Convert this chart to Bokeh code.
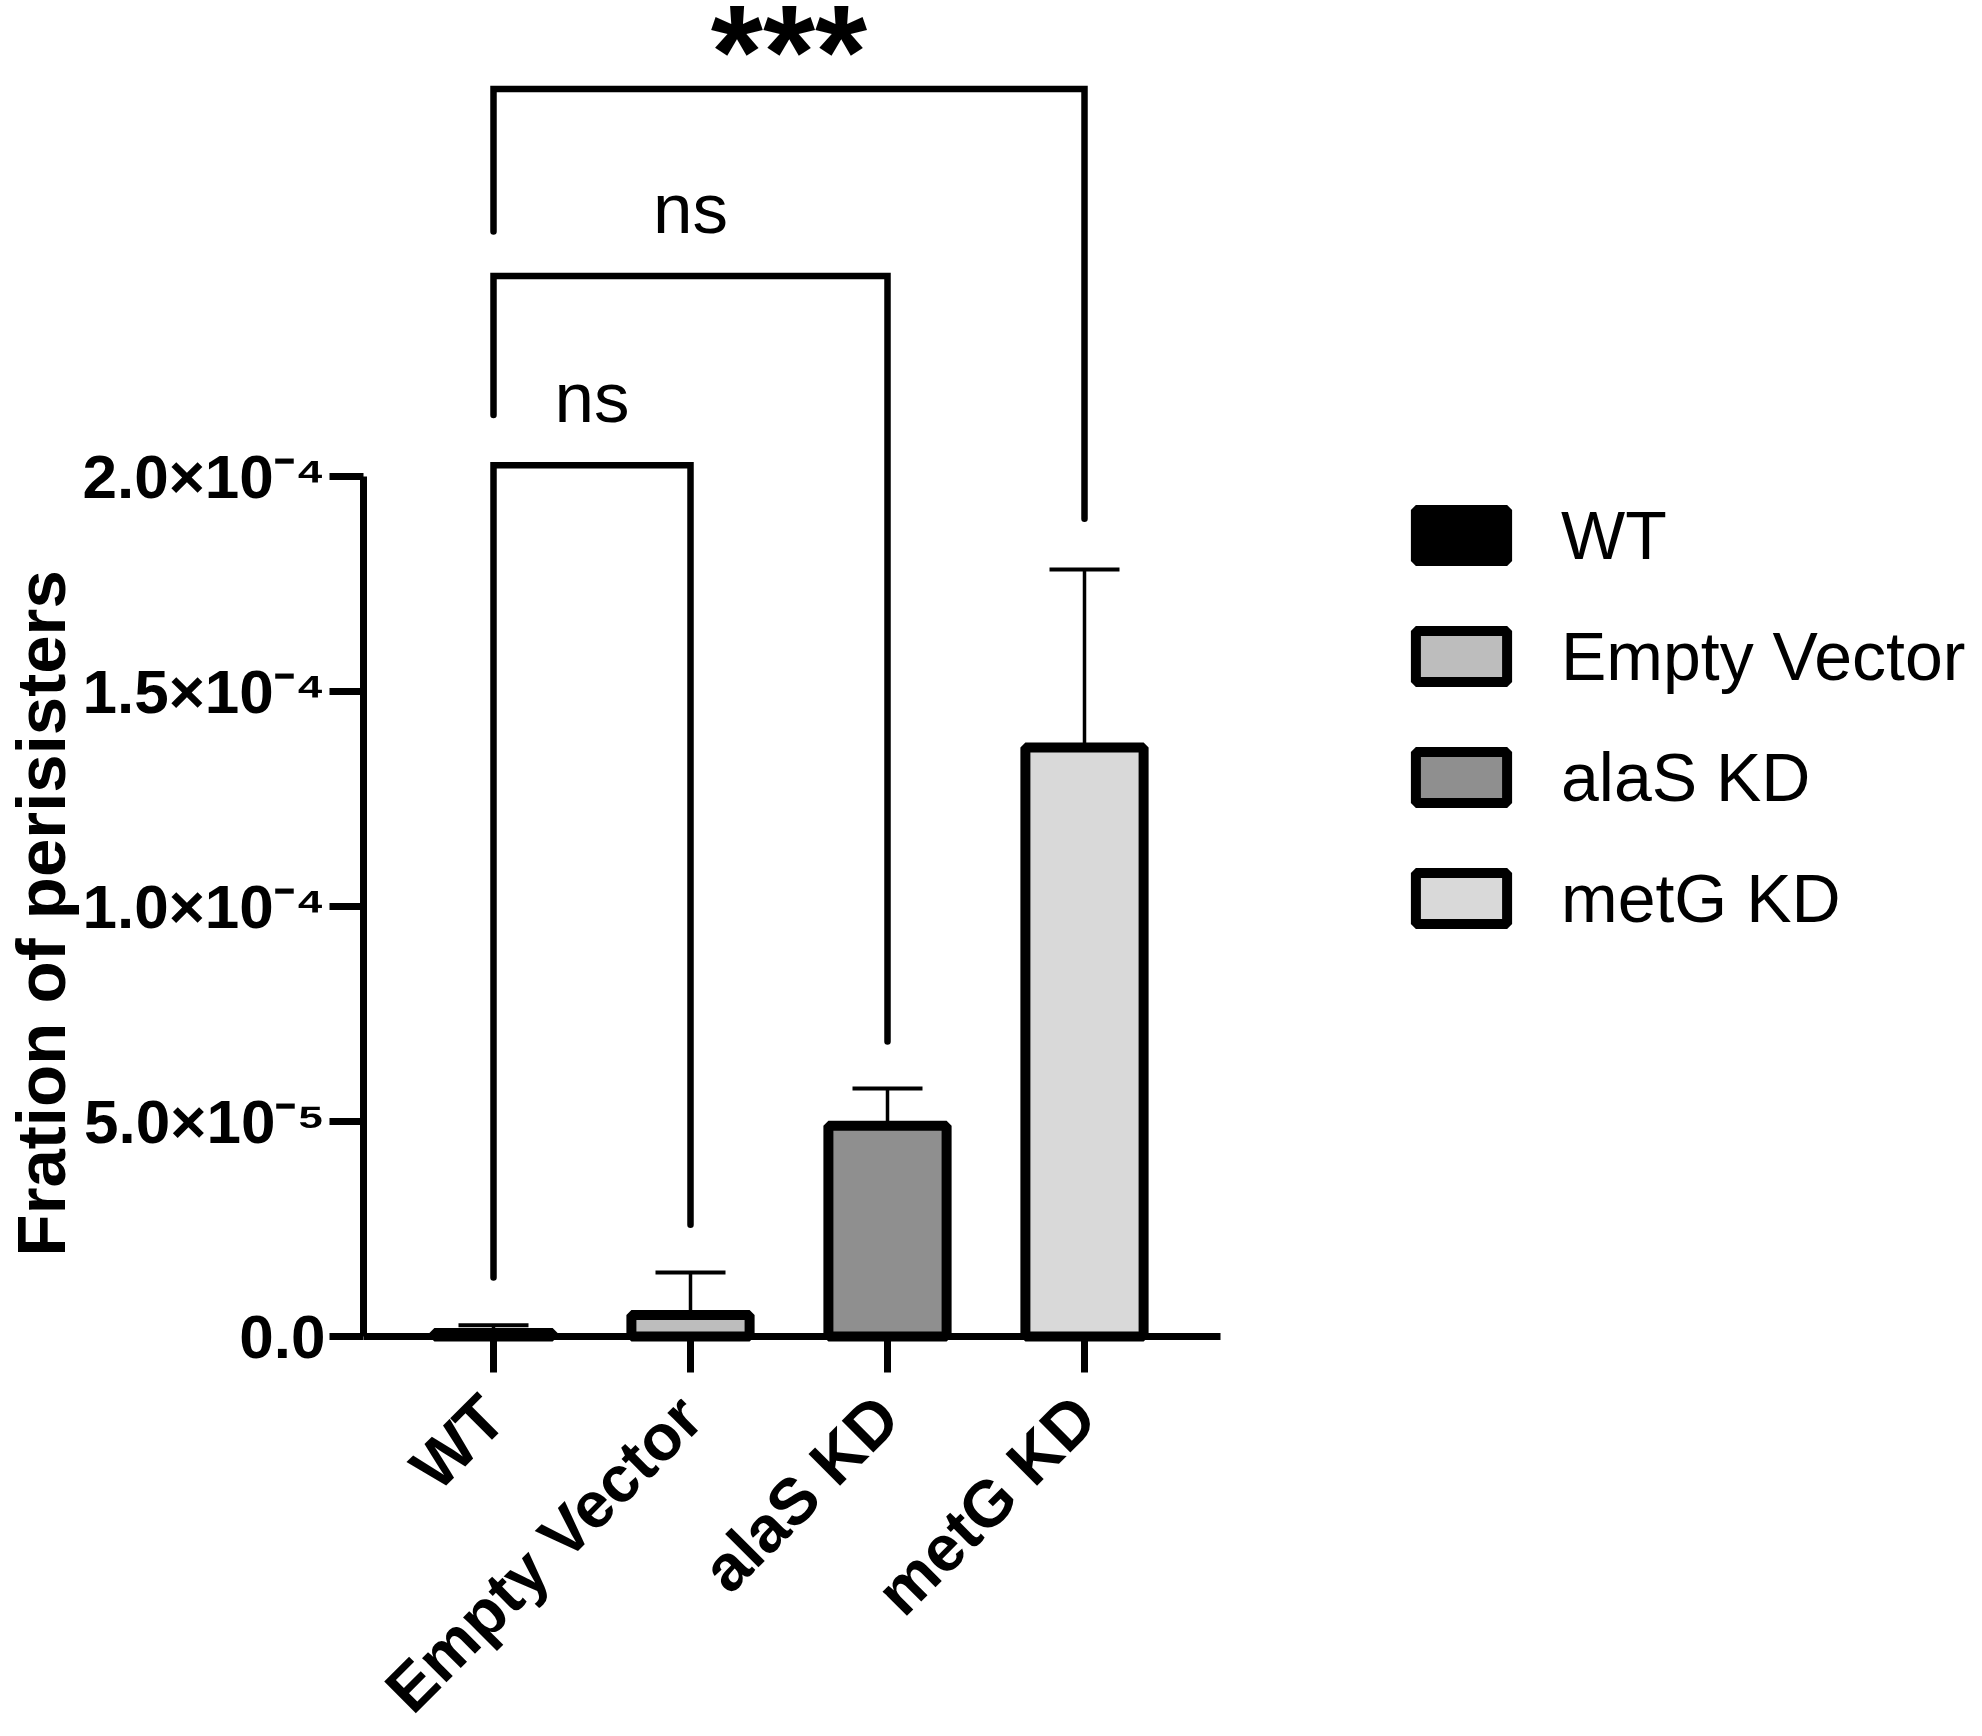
import math
from bokeh.plotting import figure
from bokeh.models import (ColumnDataSource, Range1d, FixedTicker, CustomJSTickFormatter,
                          Legend, LegendItem, Whisker, TeeHead, Title)
from bokeh.core.properties import value
from bokeh.embed import file_html
from bokeh.resources import INLINE

# ---- data ----
categories = ["WT", "Empty Vector", "alaS KD", "metG KD"]
means = [0.8e-6, 5.0e-6, 4.9e-5, 1.37e-4]
errors = [1.8e-6, 9.9e-6, 0.87e-5, 4.14e-5]
colors = ["#000000", "#bdbdbd", "#8f8f8f", "#d9d9d9"]
y_ticks = [0, 5e-5, 1e-4, 1.5e-4, 2e-4]
y_label = "Fration of perisisters"

comp_left = [1, 1, 1]
comp_right = [2, 3, 4]
comp_labels = ["ns", "ns", "***"]
bracket_top = [2.026e-4, 2.466e-4, 2.901e-4]
bracket_left_end = [1.37e-5, 2.143e-4, 2.57e-4]
bracket_right_end = [2.6e-5, 6.86e-5, 1.902e-4]

FONT = "Liberation Sans"

xs = list(range(1, len(categories) + 1))
src = ColumnDataSource(dict(
    x=xs, cat=categories, mean=means,
    upper=[m + e for m, e in zip(means, errors)],
    color=colors,
))

W, H = 1980, 1734
left_px = 363          # frame left edge = y axis line
zero_px = 1336         # pixel row of y = 0
px_per_y = 860.0 / 2e-4
px_per_unit = 197.0
x0 = 1 - (493 - left_px) / px_per_unit
x1 = x0 + (W - left_px) / px_per_unit
y_top = zero_px / px_per_y
y_bot = -(H - zero_px) / px_per_y

p = figure(width=W, height=H, output_backend="svg", toolbar_location=None,
           x_range=Range1d(x0, x1), y_range=Range1d(y_bot, y_top),
           min_border_left=left_px, min_border_bottom=0,
           min_border_top=0, min_border_right=0, title=None)
p.outline_line_color = None
p.grid.visible = False
p.background_fill_color = "white"

bars = p.vbar(x="x", top="mean", bottom=0, width=0.6, source=src,
              fill_color="color", line_color="black", line_width=10)

wh = Whisker(base="x", upper="upper", lower="mean", source=src,
             line_color="black", line_width=3.5,
             upper_head=TeeHead(size=70, line_color="black", line_width=4),
             lower_head=None)
p.add_layout(wh)

# significance brackets
bx = [[l, l, r, r] for l, r in zip(comp_left, comp_right)]
by = [[le, t, t, re] for le, t, re in zip(bracket_left_end, bracket_top, bracket_right_end)]
p.multi_line(xs=bx, ys=by, line_color="black", line_width=6.5,
             line_join="miter", line_cap="round")

mid = [(l + r) / 2 for l, r in zip(comp_left, comp_right)]
ns_idx = [i for i, t in enumerate(comp_labels) if t == "ns"]
st_idx = [i for i, t in enumerate(comp_labels) if t != "ns"]
p.text(x=[mid[i] for i in ns_idx], y=[bracket_top[i] for i in ns_idx],
       text=[comp_labels[i] for i in ns_idx], text_font=value(FONT),
       text_font_size="71px", text_align="center", text_baseline="alphabetic",
       y_offset=-68, text_color="black")
p.text(x=[mid[i] for i in st_idx], y=[bracket_top[i] for i in st_idx],
       text=[comp_labels[i] for i in st_idx], text_font=value(FONT),
       text_font_size="134px", text_font_style="bold", text_align="center",
       text_baseline="alphabetic", y_offset=-38, text_color="black")

# x axis, drawn at y = 0
xa = p.xaxis[0]
xa.fixed_location = 0
xa.bounds = (x0, 1 + (1220 - 493) / px_per_unit)
xa.ticker = FixedTicker(ticks=xs)
xa.major_label_overrides = {i: c for i, c in zip(xs, categories)}
xa.major_label_orientation = math.pi / 4
xa.minor_tick_line_color = None
xa.axis_line_width = 7
xa.major_tick_line_width = 7
xa.major_tick_out = 36
xa.major_tick_in = 0
xa.major_label_standoff = 34
xa.major_label_text_font = FONT
xa.major_label_text_font_style = "bold"
xa.major_label_text_font_size = "65px"
xa.major_label_text_color = "black"

ya = p.yaxis[0]
ya.bounds = (0, 2e-4)
ya.ticker = FixedTicker(ticks=y_ticks)
ya.formatter = CustomJSTickFormatter(code="""
if (tick == 0) return "0.0";
const e = Math.floor(Math.log10(Math.abs(tick)) + 1e-9);
const m = tick / Math.pow(10, e);
const sup = {"-":"\u207b","0":"\u2070","1":"\u00b9","2":"\u00b2","3":"\u00b3","4":"\u2074","5":"\u2075","6":"\u2076","7":"\u2077","8":"\u2078","9":"\u2079"};
const es = String(e).split("").map(c => sup[c]).join("");
return m.toFixed(1) + "\u00d710" + es;
""")
ya.minor_tick_line_color = None
ya.axis_line_width = 7
ya.major_tick_line_width = 7
ya.major_tick_out = 34
ya.major_tick_in = 0
ya.major_label_standoff = 4
ya.major_label_text_font = FONT
ya.major_label_text_font_style = "bold"
ya.major_label_text_font_size = "62px"
ya.major_label_text_color = "black"

# y axis title, placed so that it is centred on the drawn axis (0 .. 2e-4)
ytitle = Title(text=y_label, align="left", offset=H - 5 - 1251, standoff=-3,
               vertical_align="middle",
               text_font=FONT, text_font_style="bold", text_font_size="69px",
               text_color="black")
p.add_layout(ytitle, "left")

legend = Legend(items=[LegendItem(label=c, renderers=[bars], index=i)
                       for i, c in enumerate(categories)],
                location=(1412 - 8 - left_px, H - 937), orientation="vertical",
                glyph_width=114, glyph_height=64, label_standoff=43,
                label_height=51, spacing=43, padding=0, margin=0,
                border_line_color=None, background_fill_alpha=0,
                label_text_font=FONT, label_text_font_size="68px",
                label_text_color="black")
p.add_layout(legend)

open("out.html", "w").write(file_html(p, INLINE))
